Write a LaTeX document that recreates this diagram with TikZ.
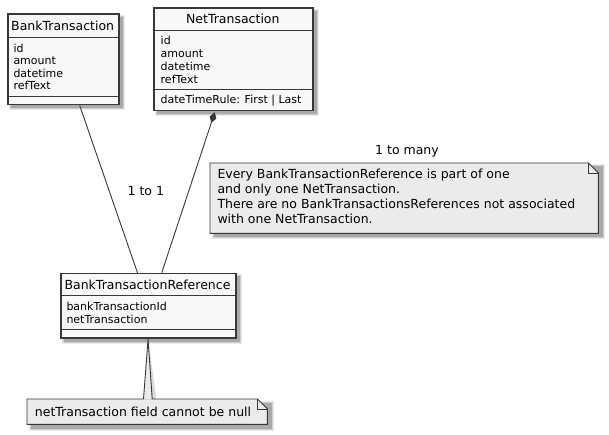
\documentclass[tikz,border=0pt]{standalone}
\usepackage{fontspec}
\setmainfont{DejaVu Sans}
\usetikzlibrary{arrows.meta,calc}
\definecolor{boxfill}{HTML}{F8F8F8}
\definecolor{boxline}{HTML}{383838}
\definecolor{notefill}{HTML}{EBEBEB}
\newcommand{\softshadow}[2]{%
  \fill[black,opacity=0.08] ($(#1)+(1.5,1.5)$) rectangle ($(#2)+(6.5,6.5)$);%
  \fill[black,opacity=0.12] ($(#1)+(2.5,2.5)$) rectangle ($(#2)+(5.5,5.5)$);%
  \fill[black,opacity=0.18] ($(#1)+(3.5,3.5)$) rectangle ($(#2)+(4.5,4.5)$);%
}
\tikzset{
  classbox/.style={draw=boxline, fill=boxfill, line width=1.5pt, inner sep=0pt, anchor=north west},
  divider/.style={draw=boxline, line width=1pt},
  titletext/.style={inner sep=0pt, anchor=base, font=\fontsize{12.5}{15}\selectfont},
  attrtext/.style={inner sep=0pt, anchor=base west, font=\fontsize{11}{13}\selectfont},
  labeltext/.style={inner sep=0pt, anchor=base, font=\fontsize{12.5}{15}\selectfont},
  notetext/.style={inner sep=0pt, anchor=base west, font=\fontsize{12.5}{15}\selectfont},
  notearea/.style={draw=none, inner sep=0pt, anchor=north west},
  notebody/.style={draw=boxline, fill=notefill, line width=0.9pt},
  link/.style={draw=boxline, line width=0.9pt},
}
\begin{document}
\begin{tikzpicture}[x=1pt, y=-1pt]
\useasboundingbox (0,0) rectangle (609,435);

% ---------- shadows ----------
\softshadow{7.3,13.3}{118,104}
\softshadow{153.3,7.3}{312.3,110}
\softshadow{60,272.7}{235,337}
\softshadow{210,163}{598,233}
\softshadow{27,399}{267,424}

% ---------- BankTransaction ----------
\node[classbox, minimum width=110.7pt, minimum height=90.7pt] (bt) at (7.3,13.3) {};
\draw[divider] (7.3,37.3) -- (118,37.3);
\draw[divider] (7.3,96.7) -- (118,96.7);
\node[titletext] (btTitle) at (62.65,30.7) {BankTransaction};
\node[attrtext] (btA1) at (13.3,52.6) {id};
\node[attrtext] (btA2) at (13.3,65.0) {amount};
\node[attrtext] (btA3) at (13.3,77.4) {datetime};
\node[attrtext] (btA4) at (13.3,89.8) {refText};

% ---------- NetTransaction ----------
\node[classbox, minimum width=159pt, minimum height=102.7pt] (nt) at (153.3,7.3) {};
\draw[divider] (153.3,30.7) -- (312.3,30.7);
\draw[divider] (153.3,90) -- (312.3,90);
\node[titletext] (ntTitle) at (232.8,24) {NetTransaction};
\node[attrtext] (ntA1) at (160.5,45) {id};
\node[attrtext] (ntA2) at (160.5,57.7) {amount};
\node[attrtext] (ntA3) at (160.5,70.4) {datetime};
\node[attrtext] (ntA4) at (160.5,83.1) {refText};
\node[attrtext] (ntM1) at (160.5,103.3) {dateTimeRule: First | Last};

% ---------- BankTransactionReference ----------
\node[classbox, minimum width=175pt, minimum height=64.3pt] (btr) at (60,272.7) {};
\draw[divider] (60,295.7) -- (235,295.7);
\draw[divider] (60,329) -- (235,329);
\node[titletext] (btrTitle) at (147.5,289.3) {BankTransactionReference};
\node[attrtext] (btrA1) at (66.3,310) {bankTransactionId};
\node[attrtext] (btrA2) at (66.3,323.3) {netTransaction};

% ---------- connectors ----------
\draw[link] ($(bt.south)+(16.3,0)$) -- ($(btr.north)+(-10.8,0)$);
\node[labeltext] (lbl11) at (145.8,195.7) {1 to 1};
\draw[link, {Diamond[length=11pt,width=7pt,fill=boxline]}-] ($(nt.south)+(-18.8,0.8)$) -- ($(btr.north)+(13.5,0)$);
\node[labeltext] (lblmany) at (407,154.3) {1 to many};

% ---------- note 1 ----------
\node[notearea, minimum width=388pt, minimum height=70pt] (note1) at (210,163) {};
\draw[notebody] (note1.north west) -- ($(note1.north east)+(-10,0)$) -- ($(note1.north east)+(0,10)$) -- (note1.south east) -- (note1.south west) -- cycle;
\draw[link] ($(note1.north east)+(-10,0)$) -- ($(note1.north east)+(-10,10)$) -- ($(note1.north east)+(0,10)$);
\node[notetext] (n1l1) at (217.3,179) {Every BankTransactionReference is part of one};
\node[notetext] (n1l2) at (217.3,193.8) {and only one NetTransaction.};
\node[notetext] (n1l3) at (217.3,208.6) {There are no BankTransactionsReferences not associated};
\node[notetext] (n1l4) at (217.3,223.4) {with one NetTransaction.};

% ---------- note 2 ----------
\node[notearea, minimum width=240pt, minimum height=25pt] (note2) at (27,399) {};
\draw[notebody] (note2.north west) -- ($(note2.north east)+(-10,0)$) -- ($(note2.north east)+(0,10)$) -- (note2.south east) -- (note2.south west) -- cycle;
\draw[link] ($(note2.north east)+(-10,0)$) -- ($(note2.north east)+(-10,10)$) -- ($(note2.north east)+(0,10)$);
\node[notetext] (n2l1) at (34.7,416) {netTransaction field cannot be null};
% wedge linking note 2 to BankTransactionReference
\fill[black,opacity=0.15] ($(btr.south)+(0.2,2)$) -- ($(note2.north)+(-0.5,0)$) -- ($(note2.north)+(9,0)$) -- cycle;
\fill[notefill] ($(btr.south)+(-0.2,0.7)$) -- ($(note2.north)+(-3.7,0.6)$) -- ($(note2.north)+(5,0.6)$) -- cycle;
\draw[link] ($(note2.north)+(-3.7,0)$) -- ($(btr.south)+(-0.2,0.7)$) -- ($(note2.north)+(5,0)$);
\end{tikzpicture}
\end{document}
